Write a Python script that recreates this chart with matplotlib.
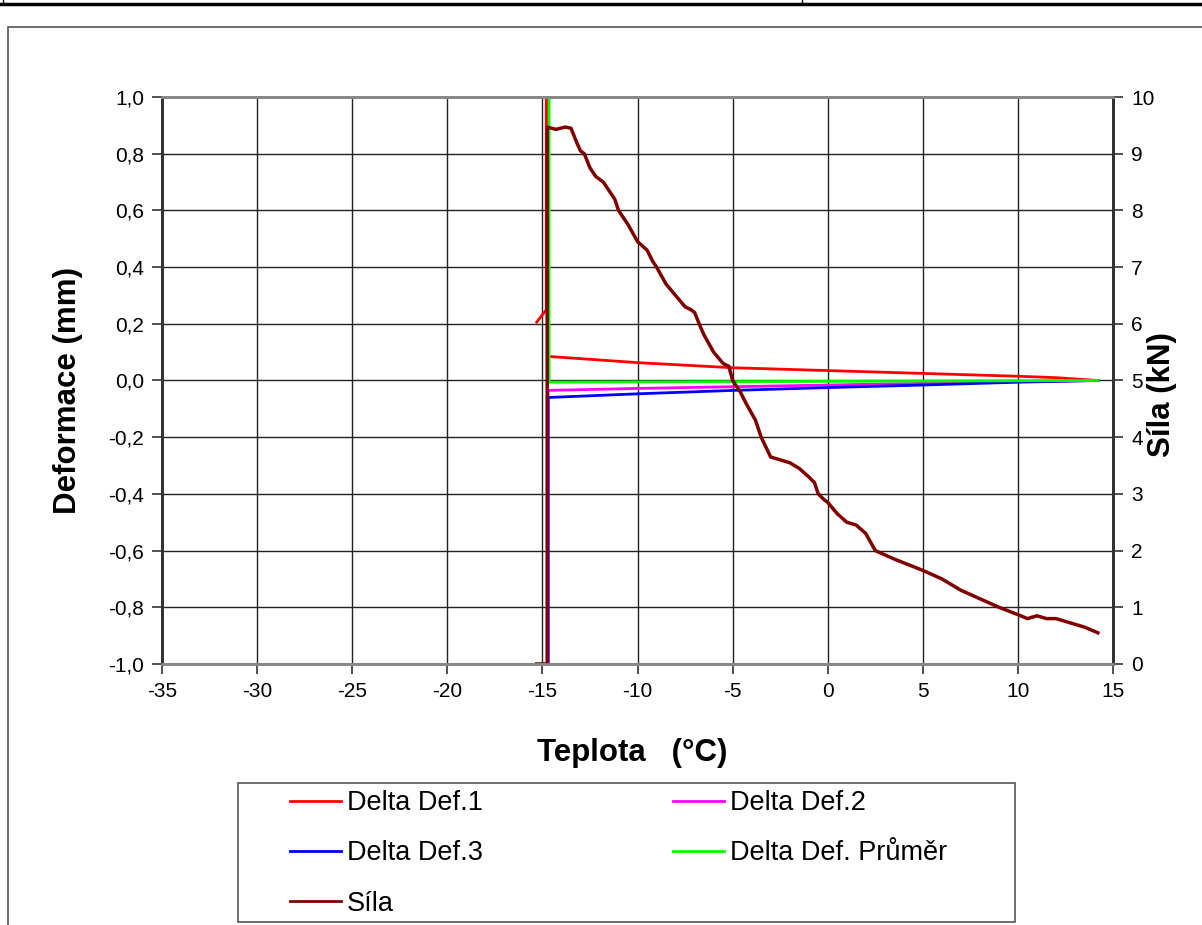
import matplotlib
matplotlib.use("Agg")
import matplotlib.pyplot as plt
from matplotlib.lines import Line2D
from matplotlib.patches import Rectangle
from matplotlib.ticker import FuncFormatter, MultipleLocator

plt.rcParams['font.family'] = ['Liberation Sans', 'DejaVu Sans']
plt.rcParams['axes.unicode_minus'] = False

# Teplota (°C) a deformace (mm)
def1_t = [-15.3, -14.85, -14.8, -14.8, -14.7, -10, -5, 0, 5, 10, 12, 14.2]
def1_v = [0.206, 0.245, 0.245, 1.2, 0.085, 0.063, 0.045, 0.035, 0.025, 0.015, 0.01, 0.0]

def2_t = [-14.7, -14.7, -10, -5, 0, 5, 10, 14.2]
def2_v = [-1.2, -0.035, -0.028, -0.022, -0.016, -0.01, -0.004, 0.0]

def3_t = [-14.7, -14.7, -10, -5, 0, 5, 10, 14.2]
def3_v = [-1.2, -0.06, -0.047, -0.035, -0.025, -0.016, -0.006, 0.0]

prumer_t = [-14.65, -14.65, -10, -5, 0, 5, 10, 14.2]
prumer_v = [1.2, -0.006, -0.005, -0.004, -0.003, -0.002, -0.001, 0.0]

# Síla (kN)
sila_t = [-15.3, -14.75, -14.75, -14.3, -13.8, -13.5, -13.2, -13.0, -12.8, -12.5,
          -12.2, -11.8, -11.5, -11.2, -11.0, -10.5, -10.0, -9.5, -9.2, -9.0,
          -8.5, -8.0, -7.5, -7.2, -7.0, -6.7, -6.5, -6.0, -5.5, -5.2,
          -5.0, -4.6, -4.3, -3.8, -3.5, -3.0, -2.5, -2.0, -1.5, -1.0,
          -0.7, -0.5, -0.2, 0.0, 0.5, 1.0, 1.5, 2.0, 2.5, 3.5,
          5.0, 6.0, 7.0, 8.0, 9.0, 10.0, 10.5, 11.0, 11.5, 12.0,
          12.5, 13.0, 13.5, 14.2]
sila_v = [0.0, 0.0, 9.47, 9.43, 9.47, 9.45, 9.2, 9.05, 9.0, 8.75,
          8.6, 8.5, 8.35, 8.2, 8.0, 7.75, 7.45, 7.3, 7.1, 7.0,
          6.7, 6.5, 6.3, 6.25, 6.2, 5.95, 5.8, 5.5, 5.3, 5.25,
          5.0, 4.8, 4.6, 4.3, 4.0, 3.65, 3.6, 3.55, 3.45, 3.3,
          3.2, 3.0, 2.9, 2.85, 2.65, 2.5, 2.45, 2.3, 2.0, 1.85,
          1.65, 1.5, 1.3, 1.15, 1.0, 0.87, 0.8, 0.85, 0.8, 0.8,
          0.75, 0.7, 0.65, 0.55]

x_ticks = list(range(-35, 20, 5))

fig = plt.figure(figsize=(12.02, 9.25), dpi=100)
ax = fig.add_axes([0.1348, 0.2822, 0.7912, 0.6129])
ax2 = ax.twinx()

ax.plot(def1_t, def1_v, color='#ff0000', lw=2)
ax.plot(def2_t, def2_v, color='#ff00ff', lw=2)
ax.plot(def3_t, def3_v, color='#0000ff', lw=2)
ax.plot(prumer_t, prumer_v, color='#00ff00', lw=2)
ax2.plot(sila_t, sila_v, color='#800000', lw=2.5)

ax.set_xlim(-35, 15)
ax.set_ylim(-1, 1)
ax2.set_ylim(0, 10)
ax.set_xticks(x_ticks)
ax.yaxis.set_major_locator(MultipleLocator(0.2))
ax2.yaxis.set_major_locator(MultipleLocator(1))
ax.yaxis.set_major_formatter(FuncFormatter(lambda v, p: f"{v:.1f}".replace('.', ',').replace('-0,0', '0,0')))
ax.grid(True, color='#222222', lw=1)
ax.set_axisbelow(True)

for a in (ax, ax2):
    for s in a.spines.values():
        s.set_color('#888888')
        s.set_linewidth(2)
    a.spines['left'].set_color('#333333')
    a.spines['right'].set_color('#333333')
ax.tick_params(labelsize=15, direction='out', length=7, width=1.2, color='#333333', pad=6)
ax2.tick_params(labelsize=15, direction='out', length=7, width=1.2, color='#333333', pad=6)

ax.set_xlabel('Teplota   (°C)', fontsize=22.5, fontweight='bold')
ax.set_ylabel('Deformace (mm)', fontsize=22.5, fontweight='bold')
ax2.set_ylabel('Síla (kN)', fontsize=22.5, fontweight='bold')
ax.xaxis.set_label_coords(0.494, -0.13)
ax.yaxis.set_label_coords(-0.083, 0.483)
ax2.yaxis.set_label_coords(1.036, 0.476)

# legenda
fig.add_artist(Rectangle((238 / 1202, 1 - 922 / 925), (1015 - 238) / 1202, (922 - 783) / 925,
                         transform=fig.transFigure, facecolor='white', edgecolor='#555555', lw=1.2))
handles = [Line2D([], [], color='#ff0000', lw=2), Line2D([], [], color='#0000ff', lw=2),
           Line2D([], [], color='#800000', lw=2), Line2D([], [], color='#ff00ff', lw=2),
           Line2D([], [], color='#00ff00', lw=2)]
labels = ['Delta Def.1', 'Delta Def.3', 'Síla', 'Delta Def.2', 'Delta Def. Průměr']
leg = fig.legend(handles, labels, ncol=2, loc='upper left',
                 bbox_to_anchor=(290 / 1202, 1 - 920 / 925, (947 - 290) / 1202, (920 - 790) / 925),
                 mode='expand', fontsize=19.5, frameon=False,
                 handlelength=1.9, handletextpad=0.2,
                 borderaxespad=0, labelspacing=0.9, borderpad=0, columnspacing=2)

# rámeček kolem grafu a horní tabulka
fig.add_artist(Rectangle((8 / 1202, -0.01), 1.2, 1 - 27 / 925 + 0.01, transform=fig.transFigure,
                         fill=False, edgecolor='#555555', lw=1.2))
fig.add_artist(Line2D([0, 1], [1 - 4 / 925, 1 - 4 / 925], transform=fig.transFigure, color='black', lw=2.5))
fig.add_artist(Line2D([802 / 1202, 802 / 1202], [1 - 4 / 925, 1], transform=fig.transFigure, color='black', lw=1))
fig.add_artist(Line2D([3 / 1202, 3 / 1202], [1 - 4 / 925, 1], transform=fig.transFigure, color='black', lw=1))

fig.savefig('out.png', dpi=100)
